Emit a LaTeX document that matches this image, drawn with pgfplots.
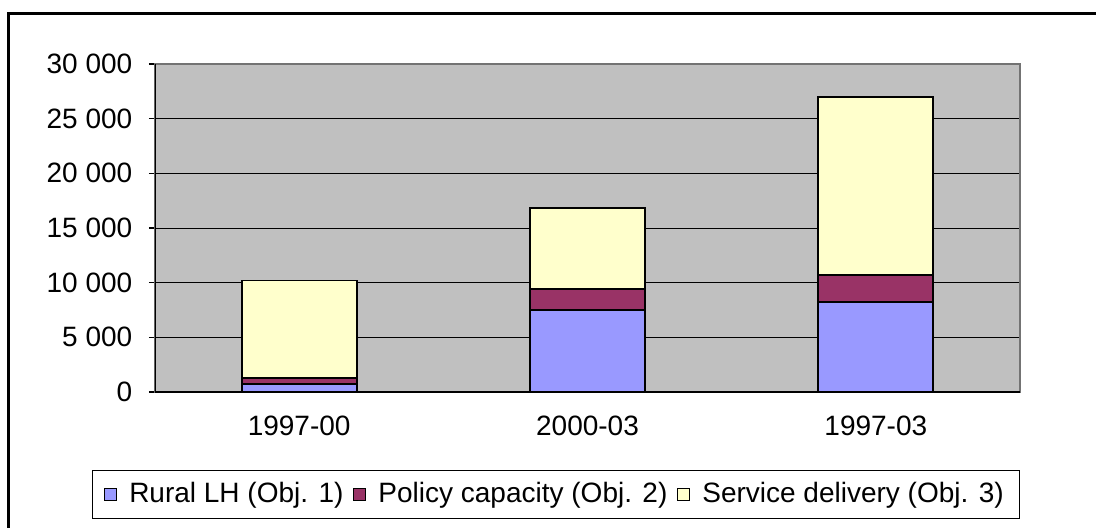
\documentclass[border=0pt]{standalone}
\usepackage{fontspec}
\setmainfont{Liberation Sans}
\usepackage{pgfplots}
\pgfplotsset{compat=1.18}
\definecolor{rural}{HTML}{9999FF}
\definecolor{policy}{HTML}{993366}
\definecolor{service}{HTML}{FFFFCC}
\definecolor{bggray}{HTML}{C0C0C0}
\begin{document}
\fontsize{14}{16}\selectfont
\begin{tikzpicture}[x=1pt,y=1pt]
\useasboundingbox (0,0) rectangle (548,263.5);
\begin{scope}
\clip (0,0) rectangle (548,263.5);
\draw[line width=1.6pt] (4.3,-20) -- (4.3,256.6) -- (600,256.6);
\end{scope}
\begin{axis}[
  at={(77.5pt,67.5pt)}, anchor=south west,
  scale only axis, width=432.5pt, height=164pt,
  ybar stacked, bar width=57.5pt,
  xmin=-0.5, xmax=2.5, ymin=0, ymax=30000,
  xtick={0,1,2}, xticklabels={1997-00,2000-03,1997-03},
  x tick style={draw=none},
  extra x ticks={-0.5,0.5,1.5,2.5}, extra x tick labels={},
  extra x tick style={grid=none, tick style={draw=black, line width=0.6pt}},
  xtick pos=bottom, ytick pos=left,
  ytick={0,5000,10000,15000,20000,25000,30000},
  y tick style={draw=black, line width=0.6pt},
  tick align=outside, major tick length=3pt,
  ymajorgrids, grid style={black, line width=0.5pt},
  axis background/.style={fill=bggray},
  axis line style={draw=gray!90!black, line width=0.8pt},
  /pgf/number format/.cd, 1000 sep={\ }, assume math mode=true, /pgfplots/.cd,
  scaled y ticks=false,
  yticklabel style={xshift=-3.5pt, font=\fontsize{14}{16}\selectfont},
  xticklabel style={yshift=-4pt, font=\fontsize{14}{16}\selectfont},
  every axis plot/.append style={draw=black, line width=0.9pt},
  legend style={at={(0.4636,-0.3125)}, anchor=center, legend columns=3,
    draw=black, line width=0.5pt, inner xsep=6pt, inner ysep=3.8pt,
    /tikz/every odd column/.append style={column sep=4pt},
    /tikz/every even column/.append style={column sep=3pt},
    font=\fontsize{14}{16}\selectfont},
  legend image code/.code={\draw[#1, draw=black, line width=0.5pt] (0pt,-3pt) rectangle (6pt,3pt);},
]
\addplot[fill=rural] coordinates {(0,700) (1,7500) (2,8230)};
\addplot[fill=policy] coordinates {(0,600) (1,1950) (2,2500)};
\addplot[fill=service] coordinates {(0,8900) (1,7350) (2,16270)};
\legend{Rural LH (Obj. 1),Policy capacity (Obj. 2),Service delivery (Obj. 3)}
\draw[black, line width=0.8pt] (rel axis cs:0,1) -- (rel axis cs:0,0) -- (rel axis cs:1,0);
\end{axis}
\end{tikzpicture}
\end{document}
